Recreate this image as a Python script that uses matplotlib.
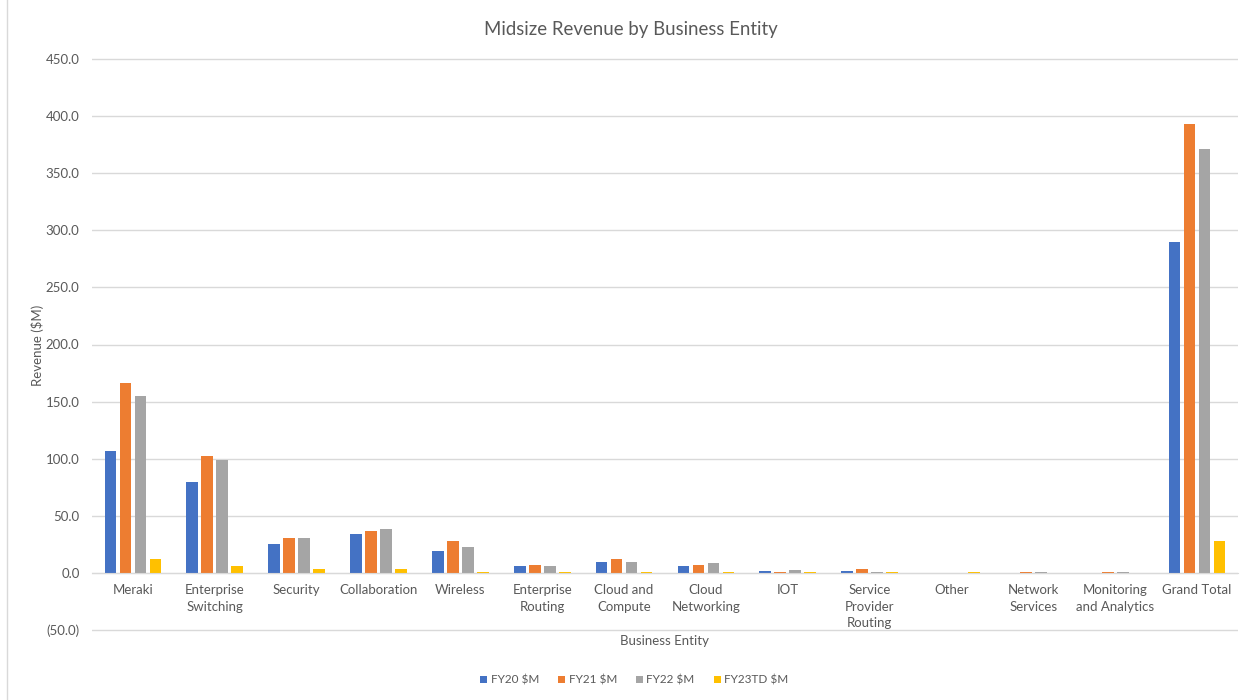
import matplotlib

matplotlib.use("Agg")
import matplotlib.pyplot as plt
import numpy as np
from matplotlib.patches import Rectangle
from matplotlib.ticker import FuncFormatter, MultipleLocator

plt.rcParams["font.family"] = ["Lato", "DejaVu Sans"]

# Données (en $M)
categories = ["Meraki", "Enterprise\nSwitching", "Security", "Collaboration",
              "Wireless", "Enterprise\nRouting", "Cloud and\nCompute",
              "Cloud\nNetworking", "IOT", "Service\nProvider\nRouting",
              "Other", "Network\nServices", "Monitoring\nand Analytics",
              "Grand Total"]
fy20 = [107.0, 80.0, 25.0, 34.4, 19.0, 6.1, 9.6, 6.1, 1.7, 1.7, 0.0, 0.0, 0.0, 290.0]
fy21 = [166.0, 102.0, 30.3, 36.4, 28.0, 7.2, 12.2, 7.2, 0.8, 3.5, -1.0, 0.8, 0.8, 393.0]
fy22 = [155.0, 98.5, 30.3, 38.1, 22.4, 6.1, 9.6, 8.7, 2.6, 0.8, 0.0, 0.8, 0.8, 371.0]
fy23 = [11.9, 5.8, 3.5, 3.5, 1.0, 1.0, 1.0, 1.0, 0.8, 0.8, 0.8, 0.0, 0.0, 27.7]

series = [("FY20 $M", fy20, "#4472c4"),
          ("FY21 $M", fy21, "#ed7d31"),
          ("FY22 $M", fy22, "#a5a5a5"),
          ("FY23TD $M", fy23, "#ffc000")]

TEXT = "#595959"
GRID = "#d9d9d9"

fig = plt.figure(figsize=(12.51, 7.0), dpi=100)
fig.patches.append(Rectangle((7 / 1251, -0.01), 1.0, 1.02, transform=fig.transFigure,
                             fill=False, edgecolor=GRID, linewidth=1.0))
# un léger débord en y pour que la ligne de (50.0) reste visible
ax = fig.add_axes([92 / 1251, 1 - 632 / 700, (1238 - 92) / 1251, (632 - 57) / 700])

x = np.arange(len(categories))
width = 0.143
pitch = 0.183
for i, (label, values, color) in enumerate(series):
    ax.bar(x + (i - 1.5) * pitch, values, width=width, color=color, label=label, zorder=3)

ax.set_xlim(-0.5, len(categories) - 0.5)
pad = 2 * 450 / 514
ax.set_ylim(-50 - pad, 450 + pad)
ax.yaxis.set_major_locator(MultipleLocator(50))
ax.yaxis.set_major_formatter(FuncFormatter(
    lambda v, _: f"({abs(v):.1f})" if v < 0 else f"{v:.1f}"))
ax.grid(axis="y", color=GRID, linewidth=1.0, zorder=0)

for side in ("top", "right", "left"):
    ax.spines[side].set_visible(False)
ax.spines["bottom"].set_position(("data", 0))
ax.spines["bottom"].set_color(GRID)
ax.spines["bottom"].set_zorder(4)

ax.set_xticks(x)
ax.set_xticklabels(categories, fontsize=9.5, color=TEXT, linespacing=1.45)
ax.tick_params(axis="x", length=0, pad=8)
ax.tick_params(axis="y", length=0, pad=9, labelsize=9.5, labelcolor=TEXT)

fig.text(631 / 1251, 1 - 29 / 700, "Midsize Revenue by Business Entity",
         ha="center", va="center", fontsize=13.4, color=TEXT)
fig.text(37 / 1251, 1 - 345 / 700, "Revenue ($M)", rotation=90,
         ha="center", va="center", fontsize=9.5, color=TEXT)
fig.text(0.5 * (92 + 1238) / 1251, 1 - 641 / 700, "Business Entity",
         ha="center", va="center", fontsize=9.5, color=TEXT)

leg = fig.legend(loc="center", bbox_to_anchor=(0.507, 1 - 680 / 700), ncol=4,
                 frameon=False, fontsize=8.5, handlelength=0.6, handleheight=0.6,
                 handletextpad=0.3, columnspacing=1.6)
for t in leg.get_texts():
    t.set_color(TEXT)

fig.savefig("out.png", dpi=100, facecolor="white")
